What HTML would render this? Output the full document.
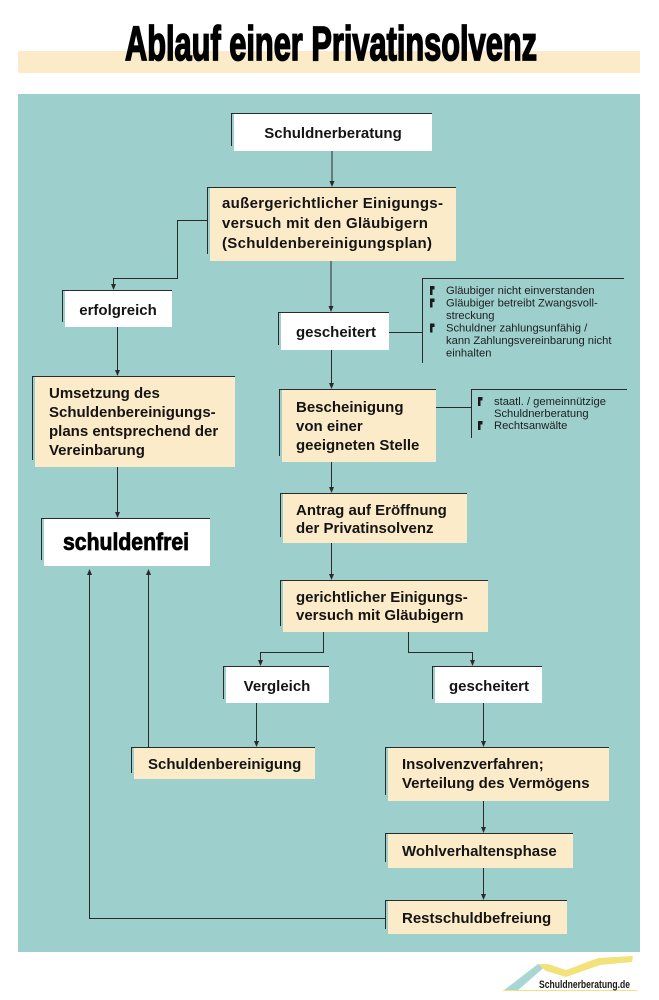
<!DOCTYPE html>
<html><head><meta charset="utf-8"><style>
html,body{margin:0;padding:0;background:#fff;}
svg{display:block;}
.t{font-family:"Liberation Sans",sans-serif;font-weight:bold;font-size:15px;fill:#141414;}
.ls{letter-spacing:0.3px;}
.n{font-family:"Liberation Sans",sans-serif;font-size:11.2px;fill:#1e1e1e;}
</style></head><body>
<svg width="659" height="1000" viewBox="0 0 659 1000" xmlns="http://www.w3.org/2000/svg">
<rect x="0" y="0" width="659" height="1000" fill="#fff"/>
<rect x="18" y="51" width="622" height="22" fill="#fcebc9"/>
<text x="125" y="60" font-family="'Liberation Sans Narrow','Liberation Sans',sans-serif" font-weight="bold" font-size="48" textLength="412" lengthAdjust="spacingAndGlyphs" fill="#000" stroke="#000" stroke-width="1.8">Ablauf einer Privatinsolvenz</text>
<rect x="18" y="94" width="622" height="858" fill="#9dcfcd"/>

<g stroke="#2a2a2a" stroke-width="1" fill="none">
<path d="M332 151V182"/>
<path d="M331 261V307"/>
<path d="M207 220.5H177.5V278.5H113.5V285"/>
<path d="M117.5 327V371"/>
<path d="M117.5 467V513"/>
<path d="M389 332.5H422.5"/>
<path d="M422.5 278V363M422 278.5H624"/>
<path d="M331.5 350V384"/>
<path d="M436 407.5H471.5"/>
<path d="M471.5 389V438M471 389.5H627"/>
<path d="M331.5 462V488"/>
<path d="M331.5 543V575"/>
<path d="M323.5 632V652.5H260.5V661"/>
<path d="M408.5 632V652.5H472.5V661"/>
<path d="M256.5 703V742"/>
<path d="M483.5 703V742"/>
<path d="M483.5 801V828"/>
<path d="M483.5 868V895"/>
<path d="M148.5 747V575"/>
<path d="M385 918.5H89.5V575"/>
</g>
<g fill="#2a2a2a">
<path d="M332 187l-2.5-6h5z"/>
<path d="M331 312l-2.5-6h5z"/>
<path d="M113.5 290l-2.5-6h5z"/>
<path d="M117.5 376l-2.5-6h5z"/>
<path d="M117.5 518l-2.5-6h5z"/>
<path d="M331.5 389l-2.5-6h5z"/>
<path d="M331.5 493l-2.5-6h5z"/>
<path d="M331.5 580l-2.5-6h5z"/>
<path d="M260.5 666l-2.5-6h5z"/>
<path d="M472.5 666l-2.5-6h5z"/>
<path d="M256.5 747l-2.5-6h5z"/>
<path d="M483.5 747l-2.5-6h5z"/>
<path d="M483.5 833l-2.5-6h5z"/>
<path d="M483.5 900l-2.5-6h5z"/>
<path d="M148.5 569l-2.5 6h5z"/>
<path d="M89.5 569l-2.5 6h5z"/>
</g>

<!-- boxes -->
<g>
<rect x="234" y="113" width="198" height="38" fill="#fff"/>
<path d="M231 113.5H432M231.5 113V146" stroke="#2a2a2a"/>
<text class="t" x="333" y="138" text-anchor="middle">Schuldnerberatung</text>

<rect x="210" y="187" width="246" height="74" fill="#fcebc9"/>
<path d="M207 187.5H456M207.5 187V254" stroke="#2a2a2a"/>
<text class="t ls" x="222" y="208">außergerichtlicher Einigungs-</text>
<text class="t ls" x="222" y="228">versuch mit den Gläubigern</text>
<text class="t ls" x="222" y="248">(Schuldenbereinigungsplan)</text>

<rect x="65" y="290" width="107" height="37" fill="#fff"/>
<path d="M62 290.5H172M62.5 290V322" stroke="#2a2a2a"/>
<text class="t" x="118" y="315" text-anchor="middle">erfolgreich</text>

<rect x="281" y="312" width="108" height="38" fill="#fff"/>
<path d="M278 312.5H389M278.5 312V345" stroke="#2a2a2a"/>
<text class="t" x="336" y="337" text-anchor="middle">gescheitert</text>

<rect x="35" y="376" width="200" height="91" fill="#fcebc9"/>
<path d="M32 376.5H235M32.5 376V460" stroke="#2a2a2a"/>
<text class="t" x="49" y="398">Umsetzung des</text>
<text class="t" x="49" y="417">Schuldenbereinigungs-</text>
<text class="t" x="49" y="436">plans entsprechend der</text>
<text class="t" x="49" y="455">Vereinbarung</text>

<rect x="282" y="389" width="154" height="73" fill="#fcebc9"/>
<path d="M279 389.5H436M279.5 389V456" stroke="#2a2a2a"/>
<text class="t" x="296" y="412">Bescheinigung</text>
<text class="t" x="296" y="431">von einer</text>
<text class="t" x="296" y="450">geeigneten Stelle</text>

<rect x="283" y="493" width="184" height="50" fill="#fcebc9"/>
<path d="M280 493.5H467M280.5 493V537" stroke="#2a2a2a"/>
<text class="t" x="296" y="515">Antrag auf Eröffnung</text>
<text class="t" x="296" y="533">der Privatinsolvenz</text>

<rect x="44" y="518" width="166" height="48" fill="#fff"/>
<path d="M41 518.5H210M41.5 518V560" stroke="#2a2a2a"/>
<text x="63" y="550" font-family="'Liberation Sans Narrow','Liberation Sans',sans-serif" font-weight="bold" font-size="24" textLength="126" lengthAdjust="spacingAndGlyphs" fill="#000" stroke="#000" stroke-width="0.8">schuldenfrei</text>

<rect x="283" y="580" width="205" height="52" fill="#fcebc9"/>
<path d="M280 580.5H488M280.5 580V626" stroke="#2a2a2a"/>
<text class="t" x="296" y="602">gerichtlicher Einigungs-</text>
<text class="t" x="296" y="620">versuch mit Gläubigern</text>

<rect x="226" y="666" width="103" height="37" fill="#fff"/>
<path d="M223 666.5H329M223.5 666V699" stroke="#2a2a2a"/>
<text class="t" x="277" y="691" text-anchor="middle">Vergleich</text>

<rect x="435" y="666" width="107" height="37" fill="#fff"/>
<path d="M432 666.5H542M432.5 666V699" stroke="#2a2a2a"/>
<text class="t" x="489" y="691" text-anchor="middle">gescheitert</text>

<rect x="134" y="747" width="181" height="32" fill="#fcebc9"/>
<path d="M131 747.5H315M131.5 747V773" stroke="#2a2a2a"/>
<text class="t" x="148" y="769">Schuldenbereinigung</text>

<rect x="388" y="747" width="221" height="54" fill="#fcebc9"/>
<path d="M385 747.5H609M385.5 747V795" stroke="#2a2a2a"/>
<text class="t" x="402" y="769">Insolvenzverfahren;</text>
<text class="t" x="402" y="788">Verteilung des Vermögens</text>

<rect x="388" y="833" width="185" height="35" fill="#fcebc9"/>
<path d="M385 833.5H573M385.5 833V862" stroke="#2a2a2a"/>
<text class="t" x="402" y="856">Wohlverhaltensphase</text>

<rect x="388" y="900" width="179" height="34" fill="#fcebc9"/>
<path d="M385 900.5H567M385.5 900V929" stroke="#2a2a2a"/>
<text class="t" x="402" y="923">Restschuldbefreiung</text>
</g>

<!-- notes bullets -->
<g fill="#1a1a1a">
<path d="M430 286h4.5v3.5h-2v5.5h-2.5z"/>
<path d="M430 298.5h4.5v3.5h-2v5.5h-2.5z"/>
<path d="M430 323.5h4.5v3.5h-2v5.5h-2.5z"/>
<path d="M478 397h4.5v3.5h-2v5.5h-2.5z"/>
<path d="M478 421h4.5v3.5h-2v5.5h-2.5z"/>
</g>
<text class="n" x="446" y="294">Gläubiger nicht einverstanden</text>
<text class="n" x="446" y="306.5">Gläubiger betreibt Zwangsvoll-</text>
<text class="n" x="446" y="319">streckung</text>
<text class="n" x="446" y="331.5">Schuldner zahlungsunfähig /</text>
<text class="n" x="446" y="344">kann Zahlungsvereinbarung nicht</text>
<text class="n" x="446" y="356.5">einhalten</text>
<text class="n" x="494" y="405">staatl. / gemeinnützige</text>
<text class="n" x="494" y="417">Schuldnerberatung</text>
<text class="n" x="494" y="429">Rechtsanwälte</text>

<!-- logo -->
<path d="M503 991L538 964L548 964L517 991Z" fill="#a9d6d2"/>
<path d="M538 964L548 964L566 970L598 958L633 956L632 962L600 965L566 977L546 971Z" fill="#f3e27a"/>
<line x1="503" y1="990.5" x2="637" y2="990.5" stroke="#f3e27a" stroke-width="1"/>
<text x="539" y="988" font-family="'Liberation Sans Narrow','Liberation Sans',sans-serif" font-weight="bold" font-size="11" textLength="91" lengthAdjust="spacingAndGlyphs" fill="#1a1a1a">Schuldnerberatung.de</text>
</svg>
</body></html>
